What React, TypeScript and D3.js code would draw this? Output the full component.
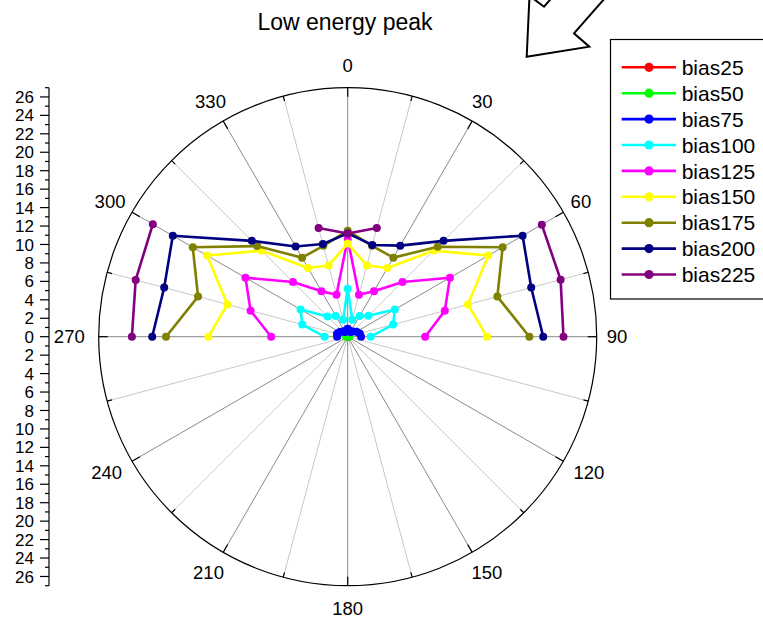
import React from 'react';
import * as d3 from 'd3';

// Scan angles in degrees (0 = top, clockwise; negative = left half)
const angles = [-90, -75, -60, -45, -30, -15, 0, 15, 30, 45, 60, 75, 90];

// Peak intensity per bias setting at each angle (null = no measurement)
const bias25 = [0.05, 0.05, 0.05, 0.05, 0.05, 0.05, 0.05, 0.05, 0.05, 0.05, 0.05, 0.05, 0.05];
const bias50 = [0.15, 0.15, 0.15, 0.15, 0.15, 0.15, 0.2, 0.15, 0.15, 0.15, 0.15, 0.15, 0.15];
const bias75 = [1.15, 1.2, 1.0, 0.8, 0.6, 0.7, 0.85, 0.7, 0.6, 0.8, 1.1, 1.35, 1.45];
const bias100 = [2.5, 5.1, 5.9, 3.1, 2.6, 1.9, 5.2, 1.9, 2.6, 3.2, 5.9, 5.1, 2.5];
const bias125 = [8.3, 10.9, 12.8, 8.4, 5.7, 4.7, 10.6, 4.7, 5.7, 8.4, 12.8, 10.9, 8.4];
const bias150 = [15.1, 13.5, 17.6, 13.2, 8.6, 8.0, 10.1, 8.0, 8.6, 13.2, 17.6, 13.5, 15.1];
const bias175 = [19.7, 16.8, 19.4, 13.9, 9.9, 10.2, 11.5, 10.2, 9.9, 13.8, 19.4, 16.8, 19.7];
const bias200 = [21.2, 20.6, 21.9, 14.7, 11.3, 10.4, 11.2, 10.3, 11.4, 14.7, 21.9, 20.6, 21.2];
const bias225 = [23.4, 23.8, 24.4, null, null, 12.2, 11.2, 12.2, null, null, 24.3, 23.9, 23.4];

const seriesNames = ['bias25', 'bias50', 'bias75', 'bias100', 'bias125', 'bias150', 'bias175', 'bias200', 'bias225'];
const seriesValues = [bias25, bias50, bias75, bias100, bias125, bias150, bias175, bias200, bias225];
const seriesColors = ['#ff0000', '#00ff00', '#0000ff', '#00ffff', '#ff00ff', '#ffff00', '#808000', '#000080', '#800080'];

// Angular axis labels and radial axis range
const angleLabels = [0, 30, 60, 90, 120, 150, 180, 210, 240, 270, 300, 330];
const radialMax = 27;
const radialLabelStep = 2;

const FONT = 'Liberation Sans, Arial, Helvetica, sans-serif';

export default function App() {
  const W = 763;
  const H = 618;
  const cx = 347.7;
  const cy = 336.7;
  const R = 249;
  const r = d3.scaleLinear().domain([0, radialMax]).range([0, R]);
  const rad = (d: number) => (d * Math.PI) / 180;

  type Pt = { a: number; v: number | null };
  const line = d3
    .lineRadial<Pt>()
    .angle((d) => rad(d.a))
    .radius((d) => r(d.v as number))
    .defined((d) => d.v != null);

  const spokes = d3.range(0, 360, 15);
  const lblFs = 18.5;
  const radFs = 17;

  // radial axis on the left
  const axX = 49;
  const radTicks = d3.range(0, radialMax + 1);

  // legend layout
  const lgX = 610.5;
  const lgY = 39.5;
  const lgRow0 = 67.3;
  const lgStep = 25.9;

  return (
    <svg
      width={W}
      height={H}
      style={{ position: 'absolute', left: 0, top: 0, background: '#fff' }}
      fontFamily={FONT}
    >
      <rect x={0} y={0} width={W} height={H} fill="#fff" />

      {/* title */}
      <text x={345} y={30} fontSize={23} textAnchor="middle" fill="#000">
        Low energy peak
      </text>

      {/* direction arrow */}
      <polygon
        points="526.7,56.7 589.3,46.7 574,33.3 613.6,-11.7 583.6,-38.3 544,6.7 529.5,-4.1"
        fill="#fff"
        stroke="#000"
        strokeWidth={2}
        strokeLinejoin="miter"
      />

      <g transform={`translate(${cx},${cy})`}>
        {/* spokes */}
        {spokes.map((a) => {
          const [x, y] = d3.pointRadial(rad(a), R);
          return (
            <line
              key={a}
              x1={0}
              y1={0}
              x2={x}
              y2={y}
              stroke={a % 30 === 0 ? '#8a8a8a' : '#c8c8c8'}
              strokeWidth={1}
            />
          );
        })}
        {/* outer circle */}
        <circle r={R} fill="none" stroke="#000" strokeWidth={1.2} />
        {/* angular ticks (inward) */}
        {spokes.map((a) => {
          const len = a % 30 === 0 ? 9 : 5;
          const [x1, y1] = d3.pointRadial(rad(a), R);
          const [x2, y2] = d3.pointRadial(rad(a), R - len);
          return <line key={'t' + a} x1={x1} y1={y1} x2={x2} y2={y2} stroke="#000" strokeWidth={1.2} />;
        })}
        {/* angular labels */}
        {angleLabels.map((a) => {
          const s = Math.sin(rad(a));
          const c = Math.cos(rad(a));
          const w = String(a).length * 0.556 * lblFs;
          const h = 0.716 * lblFs;
          const gx = c < 0 ? 14 : 10;
          const x = (R + gx) * s + (w / 2) * s;
          const y = -(R + 16) * c - (h / 2) * c;
          return (
            <text
              key={'l' + a}
              x={x}
              y={y + h / 2}
              fontSize={lblFs}
              textAnchor="middle"
              fill="#000"
            >
              {a}
            </text>
          );
        })}

        {/* data series */}
        {seriesValues.map((vals, i) => {
          const pts: Pt[] = angles.map((a, j) => ({ a, v: vals[j] }));
          return (
            <g key={seriesNames[i]}>
              <path
                d={line(pts) || ''}
                fill="none"
                stroke={seriesColors[i]}
                strokeWidth={2.6}
                strokeLinejoin="round"
              />
              {pts
                .filter((p) => p.v != null)
                .map((p, j) => {
                  const [x, y] = d3.pointRadial(rad(p.a), r(p.v as number));
                  return <circle key={j} cx={x} cy={y} r={4} fill={seriesColors[i]} />;
                })}
            </g>
          );
        })}
      </g>

      {/* radial axis */}
      <line x1={axX} y1={cy - r(radialMax)} x2={axX} y2={cy + r(radialMax)} stroke="#000" strokeWidth={1.2} />
      {radTicks.map((v) => {
        const major = v % radialLabelStep === 0;
        const len = major ? 9 : 4;
        const ys = v === 0 ? [cy] : [cy - r(v), cy + r(v)];
        return ys.map((y, k) => (
          <g key={`rt${v}-${k}`}>
            <line x1={axX - len} y1={y} x2={axX} y2={y} stroke="#000" strokeWidth={1.2} />
            {major && (
              <text x={34} y={y + 0.358 * radFs} fontSize={radFs} textAnchor="end" fill="#000">
                {v}
              </text>
            )}
          </g>
        ));
      })}

      {/* legend */}
      <rect x={lgX} y={lgY} width={W - lgX + 10} height={259.5} fill="#fff" stroke="#000" strokeWidth={1.2} />
      {seriesNames.map((n, i) => {
        const y = lgRow0 + i * lgStep;
        return (
          <g key={'lg' + n}>
            <line x1={621.7} y1={y} x2={676} y2={y} stroke={seriesColors[i]} strokeWidth={2.6} />
            <circle cx={649} cy={y} r={4.6} fill={seriesColors[i]} />
            <text x={681.7} y={y + 7.6} fontSize={21} fill="#000">
              {n}
            </text>
          </g>
        );
      })}
    </svg>
  );
}
